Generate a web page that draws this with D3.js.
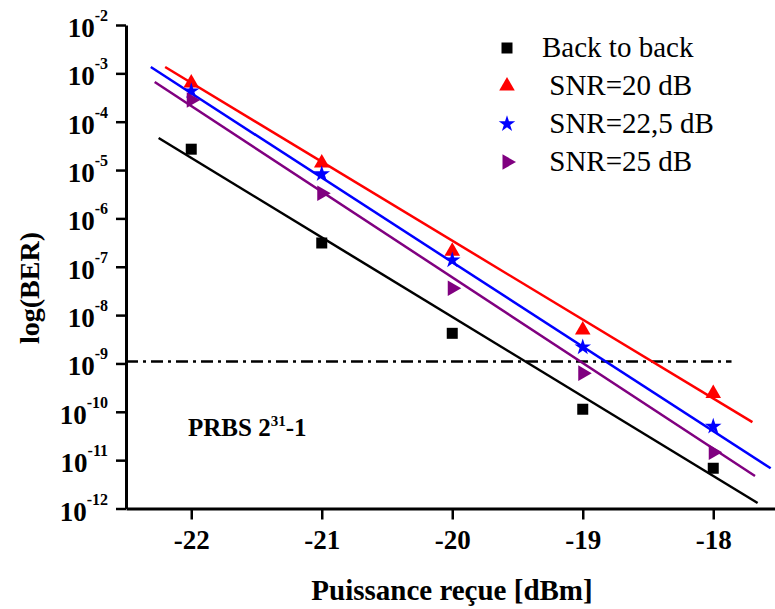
<!DOCTYPE html>
<html>
<head>
<meta charset="utf-8">
<script src="https://cdn.jsdelivr.net/npm/d3@7"></script>
<style>
  body { margin: 0; background: #fff; }
  text { font-family: "Liberation Serif", "Times New Roman", serif; fill: #000; }
</style>
</head>
<body>
<div id="chart"></div>
<script>
// Measured points (received power in dBm, BER)
const powers = [-22, -21, -20, -19, -18]
const berB2B = [2.7e-5, 3.1e-7, 4.2e-9, 1.13e-10, 6.8e-12]
const berSnr20 = [6.3e-4, 1.4e-5, 2.1e-7, 4.9e-9, 2.4e-10]
const berSnr225 = [4.3e-4, 8.3e-6, 1.37e-7, 2.18e-9, 5.0e-11]
const berSnr25 = [2.8e-4, 3.3e-6, 3.6e-8, 6.3e-10, 1.46e-11]

// Fitted lines, [power, BER] at each end
const fitB2B = [[-22.25, 4.6e-5], [-17.66, 1.3e-12]]
const fitSnr20 = [[-22.2, 1.35e-3], [-17.70, 6.1e-11]]
const fitSnr225 = [[-22.31, 1.35e-3], [-17.56, 6.8e-12]]
const fitSnr25 = [[-22.28, 6.6e-4], [-17.68, 4.7e-12]]

// FEC threshold line
const threshold = [[-22.5, 1.1e-9], [-17.86, 1.1e-9]]

const seriesNames = ['Back to back', ' SNR=20 dB', ' SNR=22,5 dB', ' SNR=25 dB']
const xTicks = [-22, -21, -20, -19, -18]
const xMinorTicks = [-22.5, -21.5, -20.5, -19.5, -18.5, -17.5]
const yExponents = [-2, -3, -4, -5, -6, -7, -8, -9, -10, -11, -12]

// Series styling
const series = [
  {name: seriesNames[0], ber: berB2B, fit: fitB2B, color: '#000000', symbol: d3.symbolSquare, size: 121, rotate: 0},
  {name: seriesNames[1], ber: berSnr20, fit: fitSnr20, color: '#ff0000', symbol: d3.symbolTriangle, size: 105, rotate: 0},
  {name: seriesNames[2], ber: berSnr225, fit: fitSnr225, color: '#0000ff', symbol: d3.symbolStar, size: 85, rotate: 0},
  {name: seriesNames[3], ber: berSnr25, fit: fitSnr25, color: '#800080', symbol: d3.symbolTriangle, size: 105, rotate: 90}
]

// Create SVG
const svg = d3.select('#chart').append('svg')
  .attr('width', 775)
  .attr('height', 609)

// Scales
const x = d3.scaleLinear().domain([-22.5, -17.5]).range([126, 778.5])
const y = d3.scaleLog().domain([1e-12, 1e-2]).range([508.5, 25])

// Minor ticks on log axis (2..9 per decade)
const yMinorTicks = []
yExponents.slice(1).forEach(e => {
  for (let k = 2; k <= 9; k++) yMinorTicks.push(k * Math.pow(10, e))
})

// Threshold line
const line = d3.line().x(d => x(d[0])).y(d => y(d[1]))
svg.append('path')
  .attr('d', line(threshold))
  .attr('fill', 'none')
  .attr('stroke', '#000')
  .attr('stroke-width', 2.5)
  .attr('stroke-dasharray', '12,5,3,5')

// Fit lines and markers
series.forEach(s => {
  svg.append('path')
    .attr('d', line(s.fit))
    .attr('fill', 'none')
    .attr('stroke', s.color)
    .attr('stroke-width', 2.5)
})
series.forEach(s => {
  svg.selectAll(null)
    .data(powers.map((p, i) => [p, s.ber[i]]))
    .enter()
    .append('path')
    .attr('d', d3.symbol().type(s.symbol).size(s.size))
    .attr('fill', s.color)
    .attr('transform', d => `translate(${x(d[0])}, ${y(d[1])}) rotate(${s.rotate})`)
})

// X axis
const xAxisGroup = svg.append('g').attr('transform', `translate(0, ${y(1e-12)})`)
xAxisGroup.call(d3.axisBottom(x).tickValues(xMinorTicks).tickSize(7).tickSizeOuter(0).tickFormat(''))
xAxisGroup.call(d3.axisBottom(x).tickValues(xTicks).tickSize(11).tickSizeOuter(0).tickFormat(d => String(d)))
xAxisGroup.selectAll('text')
  .attr('y', 40)
  .attr('dy', 0)
  .attr('font-size', '27px')
  .attr('font-weight', 'bold')
  .attr('font-family', '"Liberation Serif", serif')

// Y axis
const yAxisGroup = svg.append('g').attr('transform', `translate(${x(-22.5)}, 0)`)
yAxisGroup.call(d3.axisLeft(y).tickValues(yMinorTicks).tickSize(5).tickSizeOuter(0).tickFormat(''))
yAxisGroup.call(d3.axisLeft(y).tickValues(yExponents.map(e => Math.pow(10, e))).tickSize(10).tickSizeOuter(0).tickFormat(''))

svg.selectAll('.domain').attr('stroke-width', 3)
svg.selectAll('.tick line').attr('stroke-width', 2.5)

// Y tick labels: 10 with superscript exponent
const yLabels = svg.append('g')
  .selectAll('text')
  .data(yExponents)
  .enter()
  .append('text')
  .attr('x', x(-22.5) - 18)
  .attr('y', d => y(Math.pow(10, d)) + 12)
  .attr('text-anchor', 'end')
  .attr('font-weight', 'bold')
yLabels.append('tspan').attr('font-size', '27px').text('10')
yLabels.append('tspan').attr('font-size', '16px').attr('dy', -16).text(d => String(d))

// Axis titles
svg.append('text')
  .attr('x', 452)
  .attr('y', 600)
  .attr('text-anchor', 'middle')
  .attr('font-size', '29px')
  .attr('font-weight', 'bold')
  .text('Puissance reçue [dBm]')

svg.append('text')
  .attr('transform', 'translate(39, 288) rotate(-90)')
  .attr('text-anchor', 'middle')
  .attr('font-size', '28px')
  .attr('font-weight', 'bold')
  .text('log(BER)')

// PRBS label
const prbs = svg.append('text')
  .attr('x', 188)
  .attr('y', 436)
  .attr('font-size', '25px')
  .attr('font-weight', 'bold')
prbs.append('tspan').text('PRBS 2')
prbs.append('tspan').attr('font-size', '15px').attr('dy', -10).text('31')
prbs.append('tspan').attr('dy', 10).text('-1')

// Legend
const legend = svg.append('g')
series.forEach((s, i) => {
  legend.append('path')
    .attr('d', d3.symbol().type(s.symbol).size(s.size))
    .attr('fill', s.color)
    .attr('transform', `translate(507, ${48 + i * 38}) rotate(${s.rotate})`)
  legend.append('text')
    .attr('x', 542)
    .attr('y', 57 + i * 38)
    .attr('font-size', '29px')
    .style('white-space', 'pre')
    .text(s.name)
})
</script>
</body>
</html>
